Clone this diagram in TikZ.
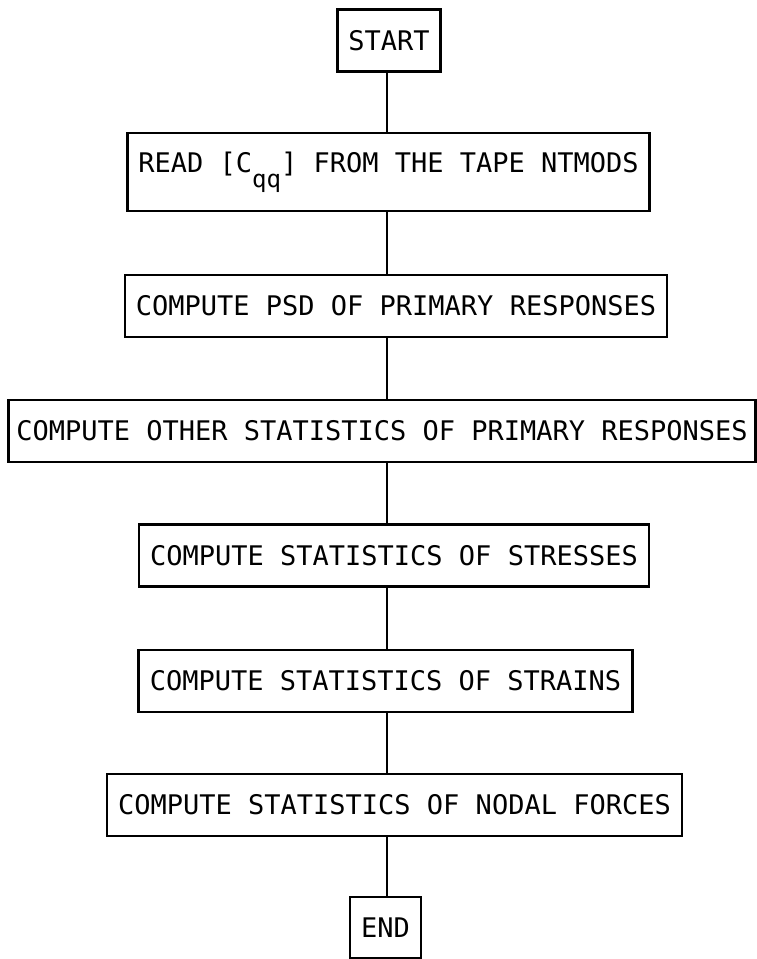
\documentclass[tikz,border=0pt]{standalone}
\usepackage{fontspec}
\setmonofont{DejaVu Sans Mono}
\usetikzlibrary{calc}
\newcommand{\plotfont}{\fontsize{27}{32}\selectfont\ttfamily}
\newcommand{\subqq}{\raisebox{-15pt}{\fontsize{24}{28}\selectfont qq}}
\def\boxht{62pt}
\tikzset{
  flowbox/.style  = {rectangle, draw, line width=2.6pt, inner xsep=11pt,
                     inner ysep=0pt, minimum height=\boxht, font=\plotfont},
  termbox/.style  = {flowbox},
  readbox/.style  = {flowbox, minimum height=78pt},
  widebox/.style  = {flowbox, inner xsep=8pt},
  link/.style     = {line width=2.6pt}
}

\begin{document}
\begin{tikzpicture}[x=1pt,y=-1pt]

\useasboundingbox (0,0) rectangle (756,959);

% -------------------- Nodes --------------------

\node[termbox] (start) at (389,40.5) {START};
\node[readbox] (read)  at (388.5,172) {READ [C\subqq] FROM THE TAPE NTMODS};
\node[flowbox] (psd)   at (396,306) {COMPUTE PSD OF PRIMARY RESPONSES};
\node[widebox] (other) at (382,431) {COMPUTE OTHER STATISTICS OF PRIMARY RESPONSES};

% statistics boxes
\foreach \x/\y/\nm/\txt in {394/555.5/stress/STRESSES, 385.5/681/strain/STRAINS,
                            394.5/805/nodal/NODAL FORCES}{
  \node[flowbox] (\nm) at (\x,\y) {COMPUTE STATISTICS OF \txt};
}

\node[termbox, minimum height=61pt] (stop) at (385.5,927.5) {END};

% -------------------- Connections --------------------

\coordinate (spine) at (387,0);
\foreach \a/\b in {start/read, read/psd, psd/other, other/stress,
                   stress/strain, strain/nodal, nodal/stop}{
  \draw[link] (\a.south -| spine) -- (\b.north -| spine);
}

\end{tikzpicture}
\end{document}
